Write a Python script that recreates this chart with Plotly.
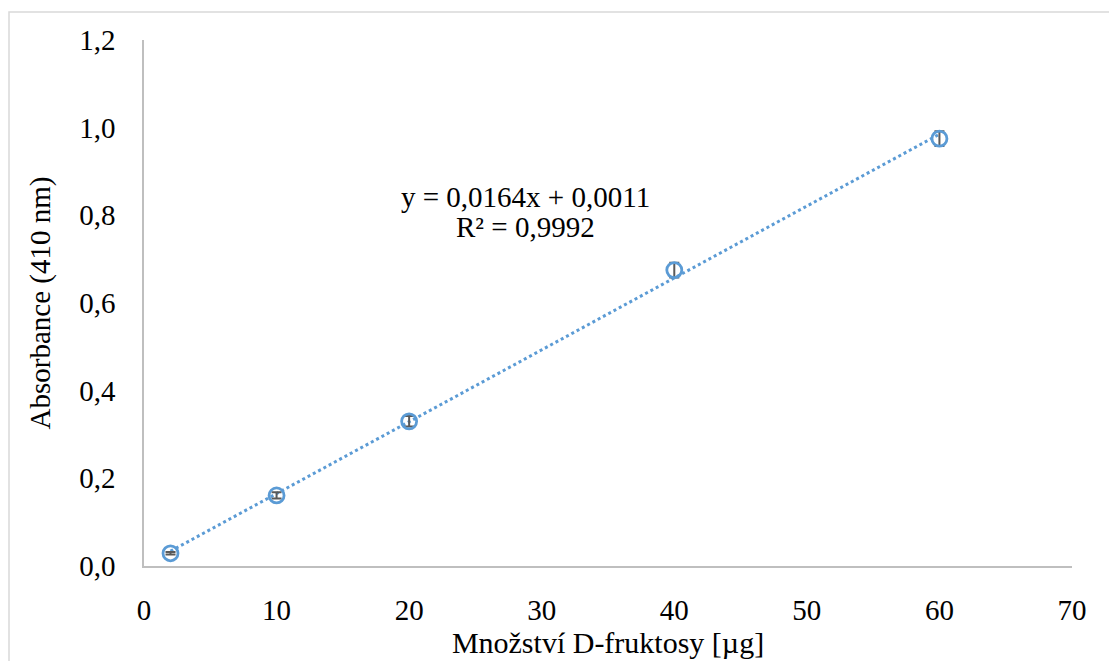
import plotly.graph_objects as go

# Data
x_vals = [2, 10, 20, 40, 60]
y_vals = [0.029, 0.161, 0.330, 0.675, 0.975]
y_err = [0.003, 0.007, 0.012, 0.017, 0.017]
slope = 0.0164
intercept = 0.0011
eq_line1 = "y = 0,0164x + 0,0011"
eq_line2 = "R² = 0,9992"

blue = "#5B9BD5"
font_family = "Liberation Serif, Times New Roman, serif"
fs = 29

trend_x = [min(x_vals), max(x_vals)]
trend_y = [slope * v + intercept for v in trend_x]

fig = go.Figure()
fig.add_trace(go.Scatter(
    x=trend_x, y=trend_y, mode="lines",
    line=dict(color=blue, width=3, dash="dot"),
    hoverinfo="skip", showlegend=False,
))
fig.add_trace(go.Scatter(
    x=x_vals, y=y_vals, mode="markers",
    marker=dict(symbol="circle-open", size=15, color=blue, line=dict(width=2.8, color=blue)),
    error_y=dict(type="data", array=y_err, visible=True, color="#595959", thickness=2, width=5),
    showlegend=False,
))

fig.add_annotation(
    x=28.8, y=0.842, xref="x", yref="y", text=eq_line1, showarrow=False,
    font=dict(family=font_family, size=fs, color="black"), yanchor="middle",
)
fig.add_annotation(
    x=28.8, y=0.774, xref="x", yref="y", text=eq_line2, showarrow=False,
    font=dict(family=font_family, size=fs, color="black"), yanchor="middle",
)

# Outer border
fig.add_shape(type="rect", xref="paper", yref="paper",
              x0=(9 - 144) / 928, x1=1.2, y0=-0.5, y1=(566 - 12) / 526,
              line=dict(color="#d9d9d9", width=1.5), fillcolor="rgba(0,0,0,0)", layer="below")

fig.update_layout(
    width=1109, height=661,
    margin=dict(l=144, r=37, t=40, b=95),
    paper_bgcolor="white", plot_bgcolor="white",
    separators=", ",
    font=dict(family=font_family, size=fs, color="black"),
    xaxis=dict(
        range=[0, 70], tickvals=[0, 10, 20, 30, 40, 50, 60, 70], automargin=False,
        showgrid=False, zeroline=False, showline=True, linecolor="#bfbfbf", linewidth=1.5,
        ticks="", ticklabelstandoff=17, tickfont=dict(size=fs, family=font_family),
        title=dict(text="Množství D-fruktosy [µg]", font=dict(size=30, family=font_family), standoff=6),
    ),
    yaxis=dict(
        range=[0, 1.2], tickvals=[0, 0.2, 0.4, 0.6, 0.8, 1.0, 1.2], tickformat=".1f", automargin=False,
        showgrid=False, zeroline=False, showline=True, linecolor="#bfbfbf", linewidth=1.5,
        ticks="", ticklabelstandoff=21, tickfont=dict(size=fs, family=font_family),
        title=dict(text="Absorbance (410 nm)", font=dict(size=fs, family=font_family), standoff=20),
    ),
)

fig.write_html("out.html")
